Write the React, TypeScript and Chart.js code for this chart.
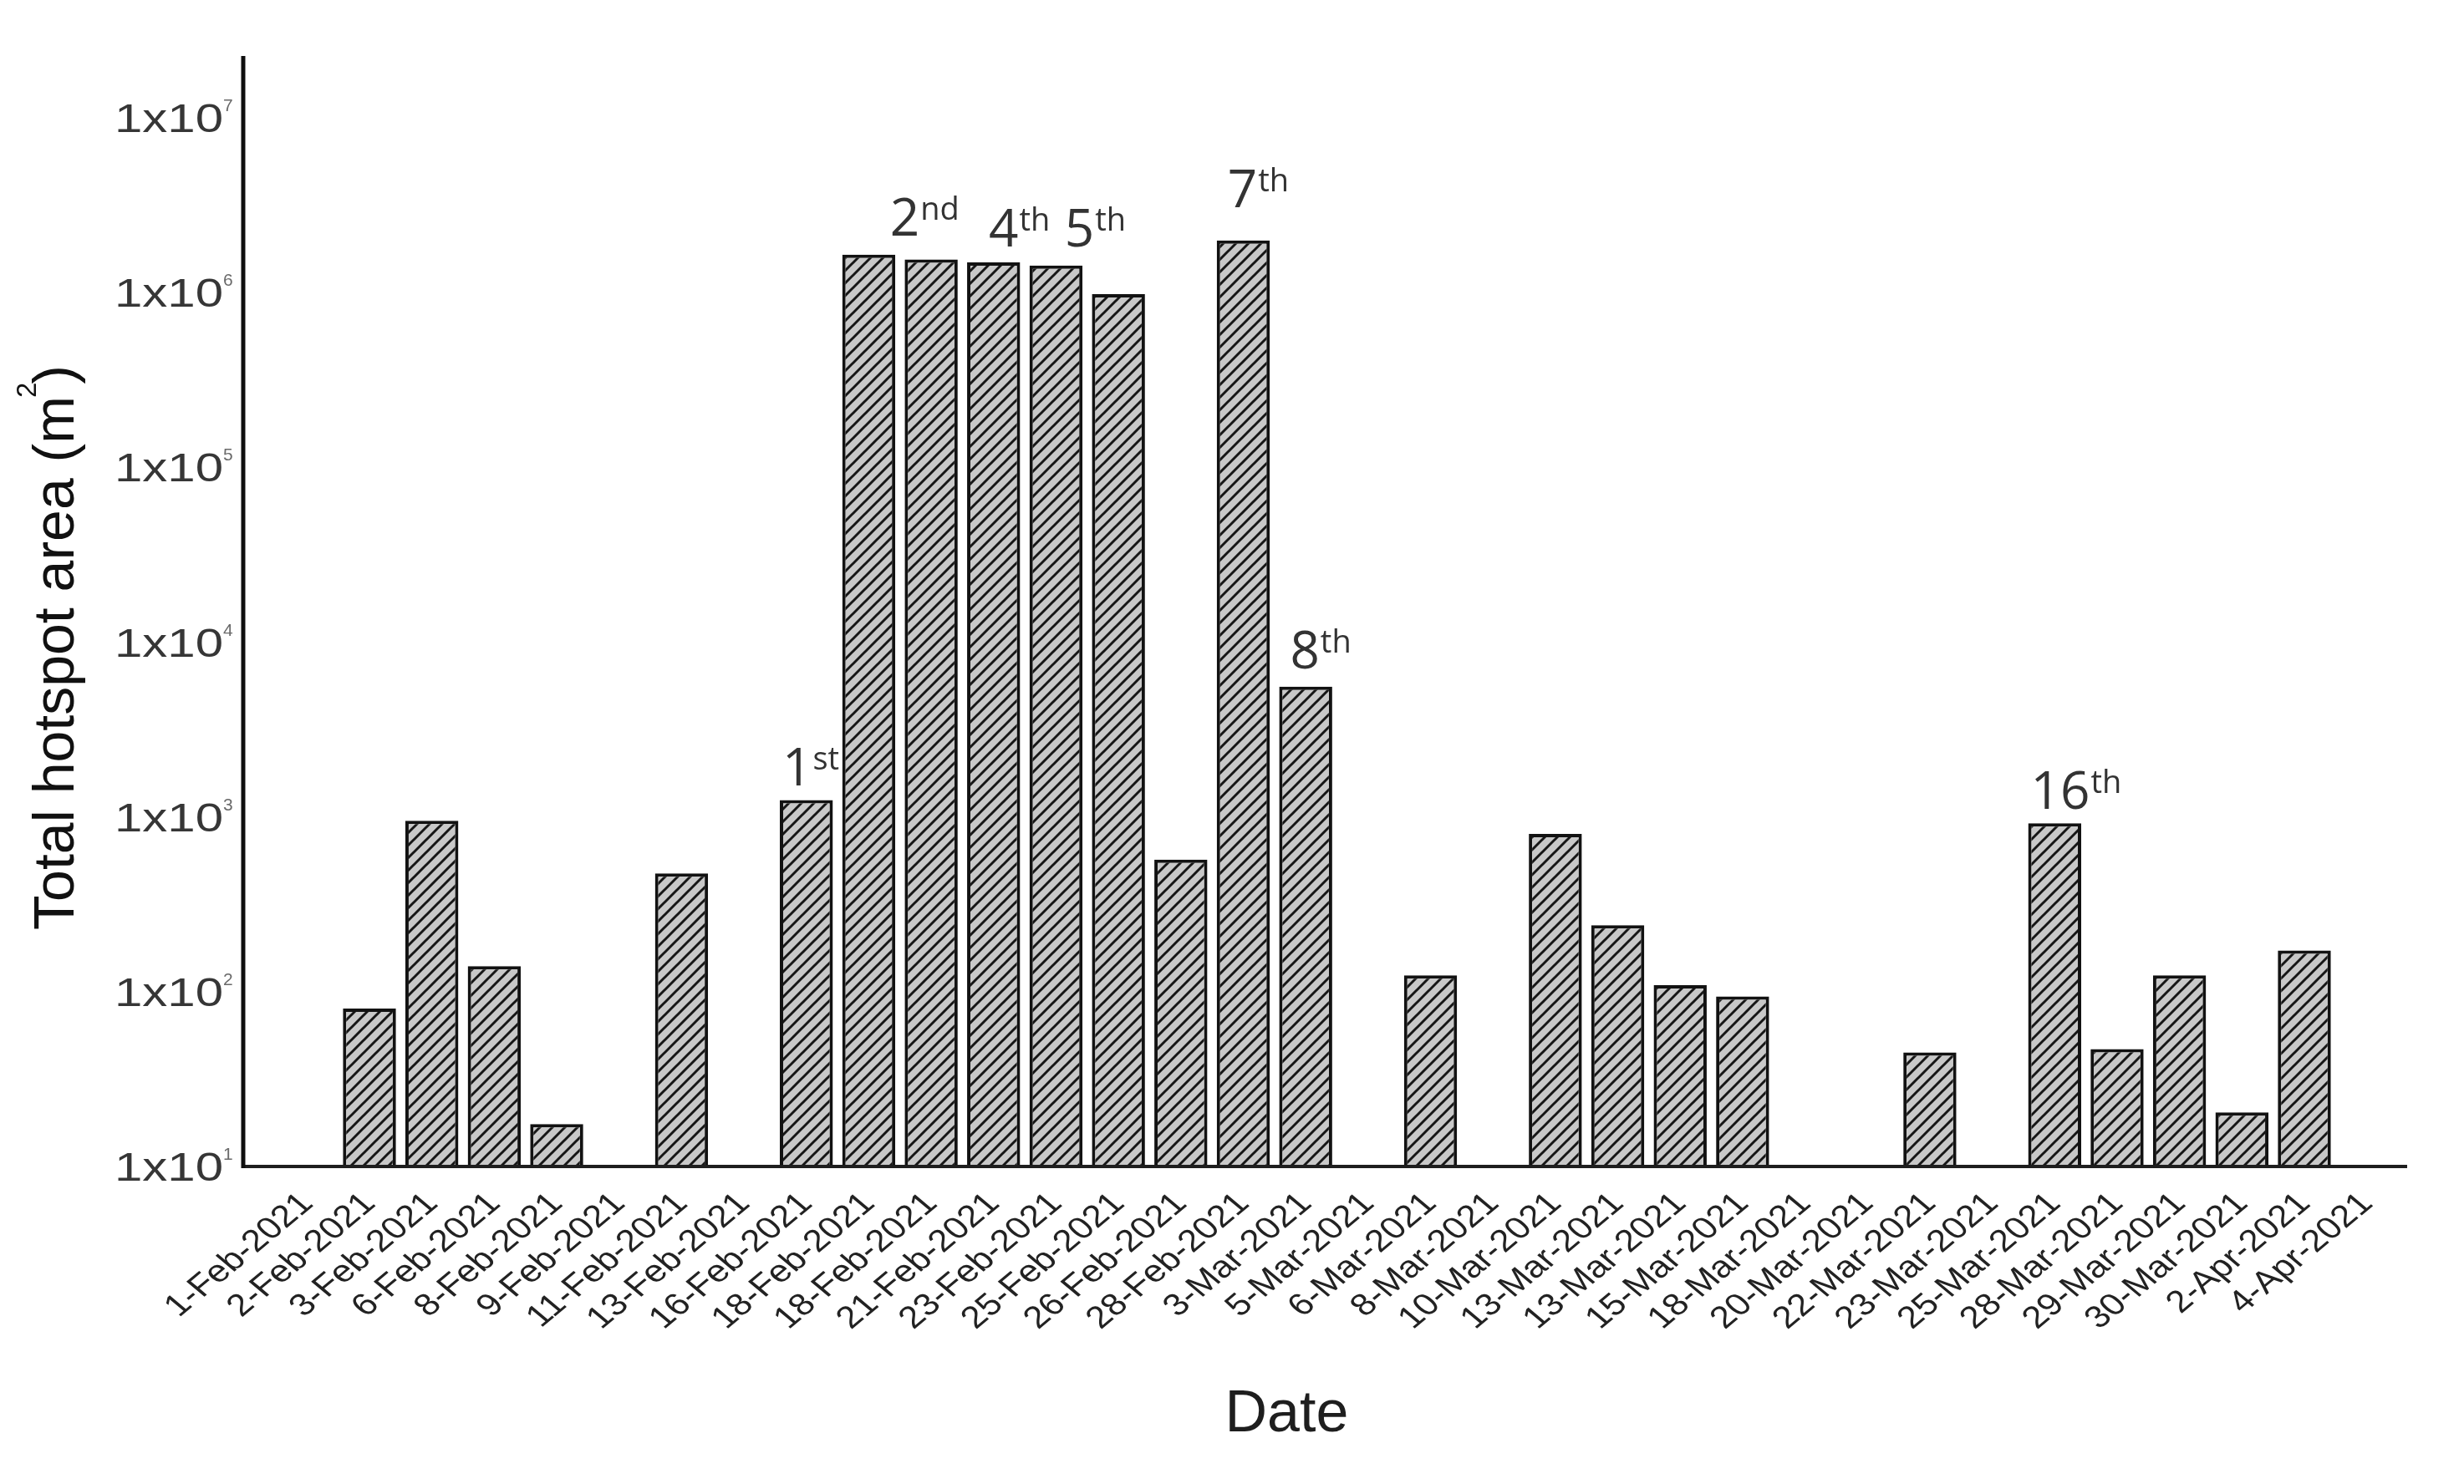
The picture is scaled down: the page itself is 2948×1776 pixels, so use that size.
import React, { useEffect, useRef } from 'react';
import { Chart, registerables } from 'chart.js';

Chart.register(...registerables);

// ---------------- data ----------------
const dates: string[] = [
  '1-Feb-2021', '2-Feb-2021', '3-Feb-2021', '6-Feb-2021', '8-Feb-2021', '9-Feb-2021',
  '11-Feb-2021', '13-Feb-2021', '16-Feb-2021', '18-Feb-2021', '18-Feb-2021', '21-Feb-2021',
  '23-Feb-2021', '25-Feb-2021', '26-Feb-2021', '28-Feb-2021', '3-Mar-2021', '5-Mar-2021',
  '6-Mar-2021', '8-Mar-2021', '10-Mar-2021', '13-Mar-2021', '13-Mar-2021', '15-Mar-2021',
  '18-Mar-2021', '20-Mar-2021', '22-Mar-2021', '23-Mar-2021', '25-Mar-2021', '28-Mar-2021',
  '29-Mar-2021', '30-Mar-2021', '2-Apr-2021', '4-Apr-2021',
];

const hotspotArea: (number | null)[] = [
  null, 80, 950, 140, 17.5, null,
  475, null, 1250, 1.65e6, 1.55e6, 1.49e6,
  1.43e6, 9.8e5, 570, 1.99e6, 5570, null,
  124, null, 800, 240, 109, 94,
  null, null, 45, null, 920, 47,
  124, 20.4, 172, null,
];

const yTickExponents: number[] = [1, 2, 3, 4, 5, 6, 7];

const eventIndex: number[] = [8, 9, 11, 12, 15, 16, 28];
const eventNumber: string[] = ['1', '2', '4', '5', '7', '8', '16'];
const eventSuffix: string[] = ['st', 'nd', 'th', 'th', 'th', 'th', 'th'];

// ---------------- layout / style constants ----------------
const W = 2948;
const H = 1776;
const EVENT_OFFSETS: [number, number][] = [
  [3, -17], [57, -23], [26, -19], [42, -23], [13, -40], [13, -22], [3, -17],
];
const SANS = '"Liberation Sans", Arial, sans-serif';
const ANNOT = '"Open Sans", "Noto Sans", sans-serif';

function makeHatch(): CanvasPattern | string {
  const s = 15;
  const c = document.createElement('canvas');
  c.width = s;
  c.height = s;
  const g = c.getContext('2d');
  if (!g) return '#c8c8c8';
  g.fillStyle = '#c8c8c8';
  g.fillRect(0, 0, s, s);
  g.strokeStyle = '#161616';
  g.lineWidth = 3;
  g.lineCap = 'square';
  g.beginPath();
  g.moveTo(0, s);
  g.lineTo(s, 0);
  g.moveTo(-3, 3);
  g.lineTo(3, -3);
  g.moveTo(s - 3, s + 3);
  g.lineTo(s + 3, s - 3);
  g.stroke();
  const p = g.createPattern(c, 'repeat');
  return p || '#c8c8c8';
}

const decorPlugin = {
  id: 'decor',
  afterDatasetsDraw(chart: any) {
    const { ctx, chartArea } = chart;
    const xs = chart.scales.x;
    const ys = chart.scales.y;
    const axisX = chartArea.left - 39;
    const axisY = chartArea.bottom;

    ctx.save();
    // axis lines
    ctx.strokeStyle = '#1e1e1e';
    ctx.lineWidth = 4;
    ctx.beginPath();
    ctx.moveTo(axisX - 2, axisY);
    ctx.lineTo(chartArea.right + 11, axisY);
    ctx.stroke();
    ctx.strokeStyle = '#0e0e0e';
    ctx.lineWidth = 5;
    ctx.beginPath();
    ctx.moveTo(axisX, chartArea.top - 4);
    ctx.lineTo(axisX, axisY + 2);
    ctx.stroke();

    // y tick labels 1x10^n
    for (const e of yTickExponents) {
      const py = ys.getPixelForValue(Math.pow(10, e));
      ctx.save();
      ctx.translate(axisX - 24, py + 17);
      ctx.scale(1.25, 1);
      ctx.font = `48px ${SANS}`;
      ctx.fillStyle = '#363636';
      ctx.textAlign = 'right';
      ctx.textBaseline = 'alphabetic';
      ctx.fillText('1x10', 0, 0);
      ctx.restore();
      ctx.font = `21px ${SANS}`;
      ctx.fillStyle = '#6a6a6a';
      ctx.textAlign = 'left';
      ctx.textBaseline = 'alphabetic';
      ctx.fillText(String(e), axisX - 24, py - 8);
    }

    // x tick labels, rotated
    ctx.font = `37px ${SANS}`;
    ctx.fillStyle = '#222222';
    ctx.textAlign = 'right';
    ctx.textBaseline = 'alphabetic';
    dates.forEach((d, i) => {
      const px = xs.getPixelForValue(i);
      ctx.save();
      ctx.translate(px + 9, axisY + 46);
      ctx.scale(1.2, 1);
      ctx.rotate(-Math.PI / 4);
      ctx.fillText(d, 0, 0);
      ctx.restore();
    });

    // y axis title
    {
      const main1 = 'Total hotspot area (m';
      const sup = '2';
      const main2 = ')';
      ctx.save();
      ctx.translate(88, 775);
      ctx.rotate(-Math.PI / 2);
      ctx.fillStyle = '#111111';
      ctx.textAlign = 'left';
      ctx.textBaseline = 'alphabetic';
      ctx.font = `68px ${SANS}`;
      const w1 = ctx.measureText(main1).width;
      const w3 = ctx.measureText(main2).width;
      ctx.font = `33px ${SANS}`;
      const w2 = ctx.measureText(sup).width;
      const total = w1 + w2 + w3 - 4;
      let x0 = -total / 2;
      ctx.font = `68px ${SANS}`;
      ctx.fillText(main1, x0, 0);
      x0 += w1 - 2;
      ctx.font = `33px ${SANS}`;
      ctx.fillText(sup, x0, -45);
      x0 += w2 - 2;
      ctx.font = `68px ${SANS}`;
      ctx.fillText(main2, x0, 0);
      ctx.restore();
    }

    // x axis title
    ctx.font = `70px ${SANS}`;
    ctx.fillStyle = '#1e1e1e';
    ctx.textAlign = 'center';
    ctx.textBaseline = 'alphabetic';
    ctx.fillText('Date', (chartArea.left + chartArea.right) / 2 - 60, axisY + 317);

    // event annotations
    const meta = chart.getDatasetMeta(0);
    eventIndex.forEach((idx, k) => {
      const el = meta.data[idx];
      if (!el) return;
      const [dx, dy] = EVENT_OFFSETS[k];
      const left = el.x - el.width / 2 + dx;
      const base = el.y + dy;
      ctx.fillStyle = '#333333';
      ctx.textAlign = 'left';
      ctx.textBaseline = 'alphabetic';
      ctx.font = `62px ${ANNOT}`;
      ctx.fillText(eventNumber[k], left, base);
      const wm = ctx.measureText(eventNumber[k]).width;
      ctx.font = `38px ${ANNOT}`;
      ctx.fillText(eventSuffix[k], left + wm + 1, base - 19);
    });

    ctx.restore();
  },
};

export default function App() {
  const canvasRef = useRef<HTMLCanvasElement | null>(null);

  useEffect(() => {
    const canvas = canvasRef.current;
    if (!canvas) return;
    const hatch = makeHatch();
    const chart = new Chart(canvas, {
      type: 'bar',
      data: {
        labels: dates,
        datasets: [
          {
            data: hotspotArea as any,
            backgroundColor: hatch as any,
            borderColor: '#121212',
            borderWidth: 4,
            borderSkipped: 'bottom',
            barPercentage: 0.85,
            categoryPercentage: 1,
          },
        ],
      },
      options: {
        responsive: false,
        devicePixelRatio: 1,
        animation: false,
        events: [],
        layout: { padding: { top: 71, right: 79, left: 0, bottom: 0 } },
        plugins: {
          legend: { display: false },
          tooltip: { enabled: false },
          title: { display: false },
        },
        scales: {
          x: {
            type: 'category',
            offset: true,
            grid: { display: false },
            border: { display: false },
            ticks: { display: false },
            afterFit: (s: any) => {
              s.height = 380;
            },
          },
          y: {
            type: 'logarithmic',
            min: 10,
            max: 2.163e7,
            grid: { display: false },
            border: { display: false },
            ticks: { display: false },
            afterFit: (s: any) => {
              s.width = 330;
            },
          },
        },
      },
      plugins: [decorPlugin],
    });
    return () => chart.destroy();
  }, []);

  return (
    <div
      style={{
        position: 'fixed',
        left: 0,
        top: 0,
        width: W,
        height: H,
        background: '#ffffff',
      }}
    >
      <canvas ref={canvasRef} width={W} height={H} style={{ display: 'block', width: W, height: H }} />
    </div>
  );
}
